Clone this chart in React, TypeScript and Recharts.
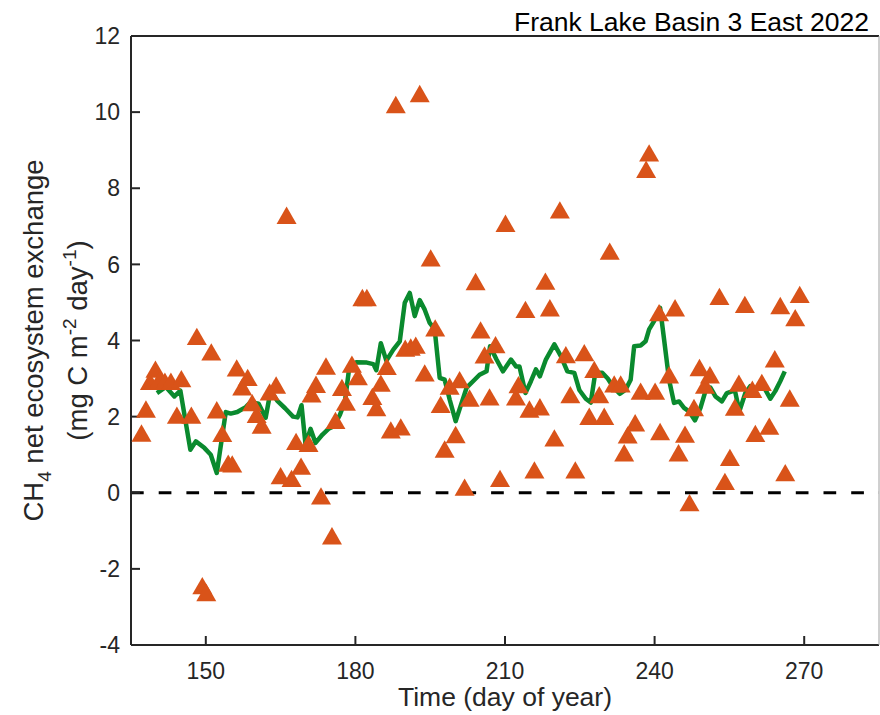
import React from 'react';
import { ComposedChart, XAxis, YAxis, Scatter, Line, ReferenceLine } from 'recharts';

const FONT = '"Liberation Sans", Arial, Helvetica, sans-serif';
const INK = '#262626';
const ORANGE = '#D95319';
const GREEN = '#0A8A2E';

const titleText = 'Frank Lake Basin 3 East 2022';
const xLabelText = 'Time (day of year)';

const xTicks = [150, 180, 210, 240, 270];
const yTicks = [-4, -2, 0, 2, 4, 6, 8, 10, 12];

// daily CH4 net ecosystem exchange (triangles)
const obsDays = [
  137.1, 138.0, 138.8, 139.9, 140.6, 141.8, 143.0, 144.2, 145.1, 147.1,
  148.2, 149.3, 150.1, 151.1, 152.2, 153.3, 154.5, 155.3, 156.2, 157.3,
  158.4, 159.3, 160.2, 161.2, 162.8, 164.1, 165.0, 166.2, 167.2, 168.1,
  169.1, 170.6, 171.2, 172.1, 173.1, 174.1, 175.3, 176.0, 177.3, 178.1,
  179.3, 180.5, 181.4, 182.3, 183.4, 184.2, 185.1, 186.3, 187.1, 188.1,
  189.1, 190.0, 191.1, 192.1, 192.9, 193.9, 195.1, 196.0, 197.1, 197.9,
  198.9, 200.1, 200.9, 201.9, 202.9, 204.1, 205.1, 205.9, 206.9, 208.1,
  209.0, 210.1, 212.2, 212.7, 214.1, 214.9, 215.9, 217.0, 218.1, 219.0,
  219.9, 221.0, 222.2, 223.1, 224.1, 225.9, 226.9, 227.9, 228.9, 229.9,
  231.0, 231.9, 233.2, 233.9, 234.6, 236.1, 237.2, 238.3, 238.9, 240.1,
  240.9, 241.1, 242.9, 244.1, 244.8, 246.1, 247.0, 247.9, 249.0, 250.1,
  251.1, 253.0, 254.1, 255.1, 256.1, 256.9, 258.1, 259.6, 260.2, 261.5,
  263.0, 264.1, 265.2, 266.2, 267.1, 268.2, 269.1,
];
const obsValues = [
  1.57, 2.2, 2.93, 3.25, 2.95, 2.93, 2.93, 2.04, 3.0, 2.04,
  4.11, -2.44, -2.62, 3.7, 2.18, 1.56, 0.78, 0.76, 3.28, 2.78,
  3.03, 2.37, 2.06, 1.78, 2.65, 2.83, 0.45, 7.29, 0.38, 1.35,
  0.7, 1.3, 2.6, 2.85, -0.08, 3.33, -1.13, 1.9, 2.77, 2.38,
  3.38, 3.05, 5.13, 5.13, 2.53, 2.24, 2.88, 3.32, 1.65, 10.2,
  1.73, 3.8, 3.83, 3.88, 10.49, 3.15, 6.17, 4.33, 2.32, 1.15,
  2.8, 1.53, 2.97, 0.15, 2.49, 5.55, 4.28, 3.62, 2.52, 3.89,
  0.38, 7.08, 2.52, 2.84, 4.82, 2.2, 0.6, 2.26, 5.56, 4.86,
  1.44, 7.43, 3.63, 2.58, 0.6, 3.68, 2.01, 3.24, 2.58, 2.01,
  6.35, 2.86, 2.86, 1.05, 1.52, 1.84, 2.67, 8.5, 8.93, 2.67,
  4.73, 1.61, 3.1, 4.86, 1.05, 1.54, -0.26, 2.24, 3.29, 2.83,
  3.1, 5.16, 0.3, 0.93, 2.25, 2.88, 4.95, 2.72, 1.56, 2.9,
  1.75, 3.52, 4.92, 0.53, 2.49, 4.6, 5.21,
];

// running mean (green line)
const meanDays = [
  140.2, 142.0, 143.7, 144.9, 146.9, 148.0, 149.7, 151.0, 152.2, 154.0,
  155.0, 156.3, 158.0, 159.0, 160.6, 162.0, 163.0, 164.3, 165.9, 167.5,
  168.4, 169.2, 170.0, 171.0, 172.0, 173.4, 174.6, 175.7, 176.9, 177.9,
  178.8, 180.2, 182.3, 183.6, 184.2, 185.1, 186.2, 187.6, 188.9, 189.9,
  190.9, 191.9, 192.9, 193.9, 194.9, 195.9, 196.9, 197.9, 198.9, 200.1,
  201.3, 202.3, 203.6, 204.9, 206.3, 207.0, 208.3, 209.6, 211.2, 212.2,
  212.9, 214.1, 215.2, 216.2, 217.0, 218.2, 219.9, 221.2, 222.5, 223.9,
  224.9, 226.2, 227.2, 228.1, 229.5, 230.6, 231.6, 233.0, 234.2, 235.2,
  235.9, 237.2, 238.2, 238.9, 239.9, 241.1, 241.9, 242.9, 243.9, 244.9,
  245.9, 246.9, 248.1, 249.2, 250.2, 251.2, 252.2, 253.5, 254.5, 256.1,
  257.0, 258.2, 259.2, 260.2, 261.5, 262.2, 263.2, 264.2, 265.2, 266.1,
];
const meanValues = [
  2.62, 2.78, 2.53, 2.68, 1.13, 1.35, 1.18, 1.0, 0.52, 2.12,
  2.08, 2.12, 2.25, 2.38, 2.34, 1.97, 2.68, 2.42, 2.22, 2.0,
  1.98, 2.3, 1.26, 1.68, 1.31, 1.53, 1.68, 1.75, 2.05, 2.4,
  3.32, 3.43, 3.42, 3.38, 3.22, 3.93, 3.47, 3.76, 3.98, 4.99,
  5.25, 4.64, 5.06, 4.81, 4.46, 4.29, 3.02, 2.97, 2.45, 1.88,
  2.36, 2.76, 2.93, 3.1, 3.19, 3.85, 3.5, 3.19, 3.5, 3.32,
  3.32, 2.62, 2.93, 3.24, 3.06, 3.5, 3.9, 3.59, 3.19, 3.15,
  2.7, 2.47, 2.37, 3.15, 3.15, 3.0, 2.8, 2.6, 2.71, 2.97,
  3.85, 3.87, 3.98, 4.29, 4.51, 4.86, 4.03, 2.97, 2.36, 2.4,
  2.23, 2.14, 1.9, 2.23, 2.67, 2.76, 2.53, 2.4, 2.62, 2.69,
  2.14, 2.62, 2.8, 2.73, 2.82, 2.71, 2.47, 2.67, 2.93, 3.19,
];

const obsData = obsDays.map((d, i) => ({ day: d, v: obsValues[i] }));
const meanData = meanDays.map((d, i) => ({ day: d, v: meanValues[i] }));

const Triangle = (props: any) => {
  const { cx, cy } = props;
  if (cx == null || cy == null) return null;
  const s = 10;
  const h = 8.66;
  return (
    <polygon
      points={`${cx},${cy - h} ${cx - s},${cy + h} ${cx + s},${cy + h}`}
      fill={ORANGE}
      stroke="none"
    />
  );
};

const XLabel = (props: any) => {
  const vb = props.viewBox || {};
  return (
    <text
      x={vb.x + vb.width / 2}
      y={vb.y + 61}
      textAnchor="middle"
      fontFamily={FONT}
      fontSize={26.5}
      fill={INK}
    >
      {xLabelText}
    </text>
  );
};

const TitleLabel = (props: any) => {
  const vb = props.viewBox || {};
  return (
    <text
      x={vb.x + vb.width - 10}
      y={31}
      textAnchor="end"
      fontFamily={FONT}
      fontSize={26.5}
      fill="#000"
    >
      {titleText}
    </text>
  );
};

const YLabel = (props: any) => {
  const vb = props.viewBox || {};
  const cy = vb.y + vb.height / 2;
  return (
    <g fontFamily={FONT} fill={INK}>
      <text transform={`translate(43, ${cy}) rotate(-90)`} textAnchor="middle" fontSize={27.5}>
        CH<tspan fontSize={19} dy={8}>4</tspan>
        <tspan dy={-8}> net ecosystem exchange</tspan>
      </text>
      <text transform={`translate(87, ${cy}) rotate(-90)`} textAnchor="middle" fontSize={27.5}>
        (mg C m<tspan fontSize={19} dy={-11}>-2</tspan>
        <tspan dy={11}> day</tspan>
        <tspan fontSize={19} dy={-11}>-1</tspan>
        <tspan dy={11}>)</tspan>
      </text>
    </g>
  );
};

const axisLine = { stroke: INK, strokeWidth: 2 };
const tickLine = { stroke: INK, strokeWidth: 2 };

export default function App() {
  return (
    <div style={{ position: 'absolute', left: 0, top: 0, width: 880, height: 715, background: '#fff' }}>
      <ComposedChart width={880} height={715} margin={{ top: 35, right: 0, bottom: 0, left: 0 }}>
        <XAxis
          xAxisId="b"
          type="number"
          dataKey="day"
          domain={[135, 285]}
          ticks={xTicks}
          interval={0}
          allowDataOverflow
          orientation="bottom"
          height={70}
          tickSize={-9}
          tickMargin={27}
          axisLine={axisLine}
          tickLine={tickLine}
          tick={{ fill: INK, fontSize: 23, fontFamily: FONT }}
          label={<XLabel />}
        />
        <XAxis
          xAxisId="t"
          type="number"
          dataKey="day"
          domain={[135, 285]}
          ticks={xTicks}
          interval={0}
          allowDataOverflow
          orientation="top"
          height={1}
          tickSize={-9}
          axisLine={axisLine}
          tickLine={tickLine}
          tick={false}
          label={<TitleLabel />}
        />
        <YAxis
          yAxisId="l"
          type="number"
          dataKey="v"
          domain={[-4, 12]}
          ticks={yTicks}
          interval={0}
          allowDataOverflow
          width={131}
          tickSize={-9}
          tickMargin={20}
          axisLine={axisLine}
          tickLine={tickLine}
          tick={{ fill: INK, fontSize: 23, fontFamily: FONT }}
          label={<YLabel />}
        />
        <YAxis
          yAxisId="r"
          type="number"
          dataKey="v"
          orientation="right"
          domain={[-4, 12]}
          ticks={yTicks}
          interval={0}
          allowDataOverflow
          width={1}
          axisLine={{ stroke: '#a0a0a0', strokeWidth: 1 }}
          tickLine={false}
          tick={false}
        />
        <Scatter
          xAxisId="b"
          yAxisId="l"
          data={obsData}
          dataKey="v"
          fill={ORANGE}
          shape={Triangle}
          isAnimationActive={false}
        />
        <Line
          xAxisId="b"
          yAxisId="l"
          data={meanData}
          dataKey="v"
          type="linear"
          stroke={GREEN}
          strokeWidth={4.5}
          strokeLinejoin="round"
          dot={false}
          activeDot={false}
          isAnimationActive={false}
        />
        <ReferenceLine
          xAxisId="b"
          yAxisId="l"
          y={0}
          stroke="#000"
          strokeWidth={3}
          strokeDasharray="12.7 15"
        />
      </ComposedChart>
    </div>
  );
}
